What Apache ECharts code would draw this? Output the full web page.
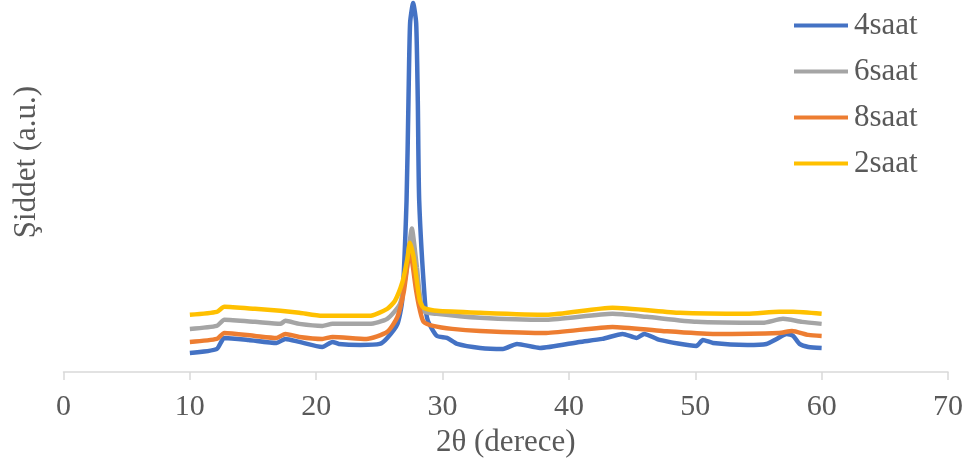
<!DOCTYPE html>
<html>
<head>
<meta charset="utf-8">
<script src="https://cdn.jsdelivr.net/npm/echarts@6/dist/echarts.min.js"></script>
<style>
  html, body { margin: 0; padding: 0; background: #fff; }
  #chart { width: 972px; height: 469px; }
</style>
</head>
<body>
<div id="chart"></div>
<script>
// 2θ değerleri ve şiddetler
var names = ['4saat', '6saat', '8saat', '2saat'];
var xTicks = [0, 10, 20, 30, 40, 50, 60, 70];

var x4 = [10, 12.13, 12.73, 14.64, 16.86, 17.56, 18.67, 20.48, 21.29, 21.79, 23.5, 25.02, 25.62, 26.43, 26.8, 27.15, 27.3, 27.43, 27.67, 27.91, 28.04, 28.15, 28.6, 28.84, 29.55, 30.35, 31.16, 32.97, 34.78, 35.89, 37.71, 40.83, 42.64, 44.25, 45.36, 45.96, 47.17, 50.09, 50.6, 51.4, 54.12, 55.63, 56.44, 57.24, 57.75, 58.25, 58.95, 60];
var y4 = [19, 23, 34, 32, 29, 33, 30, 25, 30, 28, 27, 28, 34, 48, 71, 171, 270, 348, 368, 348, 270, 171, 71, 51, 36, 34, 28, 24, 23, 28, 24, 30, 33, 38, 34, 38, 32, 26, 32, 29, 27, 28, 33, 38, 36, 28, 25, 24];

var x6 = [10, 12.13, 12.73, 15.15, 17.16, 17.56, 18.67, 20.48, 21.29, 24.21, 25.62, 26.63, 27.18, 27.35, 27.57, 27.78, 27.97, 28.44, 29.55, 32.97, 38.21, 43.45, 46.16, 50.09, 55.33, 56.94, 58.45, 60];
var y6 = [43, 46, 52, 50, 48, 51, 48, 46, 48, 48, 53, 68, 104, 125, 143, 125, 104, 61, 58, 54, 52, 58, 55, 50, 49, 53, 50, 48];

var x8 = [10, 12.13, 12.73, 15.15, 16.86, 17.56, 18.67, 20.48, 21.29, 23.97, 25.62, 26.43, 26.93, 27.2, 27.4, 27.65, 27.9, 28.2, 28.5, 29.25, 30.76, 32.97, 38.21, 43.45, 47.37, 51.4, 56.64, 57.65, 58.95, 60];
var y8 = [30, 33, 39, 36, 34, 38, 35, 33, 35, 33, 40, 55, 80, 105, 124, 105, 82, 62, 50, 46, 43, 41, 39, 45, 41, 38, 39, 41, 37, 36];

var x2 = [10, 12.13, 12.73, 15.15, 17.16, 18.67, 20.48, 24.21, 25.62, 26.23, 26.83, 27.2, 27.42, 27.7, 27.95, 28.2, 28.5, 29.55, 32.97, 38.21, 43.45, 48.79, 54.12, 56.64, 57.75, 60];
var y2 = [57, 60, 65, 63, 61, 59, 56, 56, 63, 71, 90, 112, 129, 115, 92, 71, 64, 61, 59, 57, 64, 59, 58, 60, 60, 58];

var colors = ['#4472C4', '#A5A5A5', '#ED7D31', '#FFC000'];
var xs = [x4, x6, x8, x2];
var ys = [y4, y6, y8, y2];

function zip(a, b) {
  return a.map(function (v, i) { return [v, b[i]]; });
}

var font = '"Liberation Serif", "Times New Roman", serif';
var textColor = '#595959';

var chart = echarts.init(document.getElementById('chart'));

var series = names.map(function (n, i) {
  return {
    name: n,
    type: 'line',
    data: zip(xs[i], ys[i]),
    symbol: 'none',
    smooth: 0.2,
    lineStyle: { color: colors[i], width: 4.5 },
    itemStyle: { color: colors[i] }
  };
});

var option = {
  animation: false,
  color: colors,
  grid: { left: 63.5, right: 24, top: 0, bottom: 97 },
  legend: {
    orient: 'vertical',
    left: 789,
    top: 5,
    icon: 'rect',
    itemWidth: 54,
    itemHeight: 4,
    itemGap: 15,
    data: names,
    textStyle: { fontFamily: font, fontSize: 31, color: textColor, padding: [0, 0, 0, 1] }
  },
  xAxis: {
    type: 'value',
    min: xTicks[0],
    max: xTicks[xTicks.length - 1],
    interval: 10,
    name: '2θ (derece)',
    nameLocation: 'middle',
    nameGap: 54,
    nameTextStyle: { fontFamily: font, fontSize: 31, color: textColor },
    axisLine: { lineStyle: { color: '#d9d9d9', width: 1.5 } },
    axisTick: { show: true, length: 8, lineStyle: { color: '#d9d9d9', width: 1.5 } },
    axisLabel: { fontFamily: font, fontSize: 30, color: textColor, margin: 20 },
    splitLine: { show: false }
  },
  yAxis: {
    type: 'value',
    min: 0,
    max: 371,
    show: false
  },
  graphic: [{
    type: 'text',
    x: 27,
    y: 162,
    rotation: Math.PI / 2,
    style: {
      text: 'Şiddet (a.u.)',
      font: '31px ' + font,
      fill: textColor,
      align: 'center',
      verticalAlign: 'middle'
    }
  }],
  series: series
};

chart.setOption(option);
</script>
</body>
</html>
